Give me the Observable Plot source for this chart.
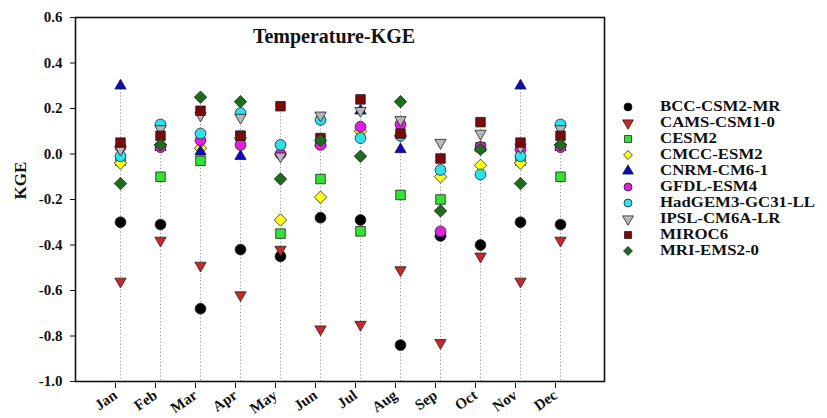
<!DOCTYPE html>
<html><head><meta charset="utf-8">
<script src="https://cdn.jsdelivr.net/npm/d3@7"></script>
<script src="https://cdn.jsdelivr.net/npm/@observablehq/plot@0.6"></script>
<style>
body{margin:0;background:#fff;font-family:"Liberation Serif","Times New Roman",serif;}
#wrap{position:relative;width:827px;height:418px;overflow:hidden;}
#legend{position:absolute;left:620px;top:99px;font-weight:bold;font-size:14px;line-height:14px;color:#111;}
.row{display:flex;align-items:center;height:16.05px;white-space:nowrap;}
.row svg{margin-right:24px;flex:none;}
.row span{display:inline-block;transform:scaleX(1.2);transform-origin:0 50%;}
</style></head><body><div id="wrap"><div id="legend"></div></div>
<script>
const months = ["Jan","Feb","Mar","Apr","May","Jun","Jul","Aug","Sep","Oct","Nov","Dec"];
const models = ["BCC-CSM2-MR","CAMS-CSM1-0","CESM2","CMCC-ESM2","CNRM-CM6-1","GFDL-ESM4","HadGEM3-GC31-LL","IPSL-CM6A-LR","MIROC6","MRI-EMS2-0"];
const yTicks = [0.6,0.4,0.2,0.0,-0.2,-0.4,-0.6,-0.8,-1.0];

const BCC    = [-0.30,-0.31,-0.68,-0.42,-0.45,-0.28,-0.29,-0.84,-0.36,-0.40,-0.30,-0.31];
const CAMS   = [-0.56,-0.38,-0.49,-0.62,-0.42,-0.77,-0.75,-0.51,-0.83,-0.45,-0.56,-0.38];
const CESM2  = [-0.03,-0.10,-0.03, 0.08,-0.35,-0.11,-0.34,-0.18,-0.20, 0.03,-0.03,-0.10];
const CMCC   = [-0.04, 0.04, 0.025,0.07,-0.29,-0.19, 0.10, 0.08,-0.10,-0.05,-0.04, 0.04];
const CNRM   = [ 0.30, 0.03, 0.01,-0.01, 0.01, 0.05, 0.19, 0.02,-0.35, 0.03, 0.30, 0.03];
const GFDL   = [ 0.03, 0.03, 0.06, 0.04, 0.00, 0.04, 0.12, 0.13,-0.34, 0.03, 0.02, 0.03];
const HadGEM = [-0.01, 0.13, 0.09, 0.18, 0.04, 0.15, 0.07, 0.08,-0.07,-0.09,-0.01, 0.13];
const IPSL   = [ 0.02, 0.11, 0.17, 0.16,-0.01, 0.17, 0.19, 0.15, 0.05, 0.09, 0.03, 0.11];
const MIROC6 = [ 0.05, 0.08, 0.19, 0.08, 0.21, 0.07, 0.24, 0.09,-0.02, 0.14, 0.05, 0.08];
const MRI    = [-0.13, 0.04, 0.25, 0.23,-0.11, 0.06,-0.01, 0.23,-0.25, 0.02,-0.13, 0.04];

const series = [BCC, CAMS, CESM2, CMCC, CNRM, GFDL, HadGEM, IPSL, MIROC6, MRI];
const fills = ["#000000","#c8282a","#33e033","#ffff1a","#0a0ac0","#e020e0","#30e0e8","#b8b8b8","#7a0a0a","#1c6e1c"];

const triangleDown = {
  draw(ctx, size) {
    const y = -Math.sqrt(size / (Math.sqrt(3) * 3));
    ctx.moveTo(0, -2 * y);
    ctx.lineTo(-Math.sqrt(3) * y, y);
    ctx.lineTo(Math.sqrt(3) * y, y);
    ctx.closePath();
  }
};
const shapes = [d3.symbolCircle, triangleDown, d3.symbolSquare, d3.symbolDiamond2, d3.symbolTriangle,
                d3.symbolCircle, d3.symbolCircle, triangleDown, d3.symbolSquare, d3.symbolDiamond2];
const radii = [5.4, 4.2, 5.4, 5.6, 4.2, 5.4, 5.4, 4.2, 5.4, 5.6];

const data = [];
models.forEach((m, i) => months.forEach((mo, j) => data.push({model: m, month: mo, value: series[i][j]})));
const tops = months.map((mo, j) => ({month: mo, top: d3.max(series, s => s[j])}));

const font = '"Liberation Serif","Times New Roman",serif';
const plot = Plot.plot({
  width: 827, height: 418,
  marginLeft: 75, marginRight: 223, marginTop: 17, marginBottom: 37,
  style: {fontFamily: font, fontSize: "15px", fontWeight: "bold", color: "#111", background: "#fff"},
  x: {type: "point", domain: months, padding: 1},
  y: {domain: [-1.0, 0.6]},
  marks: [
    Plot.ruleX(tops, {x: "month", y1: "top", y2: -1.0, stroke: "#9a9a9a", strokeWidth: 1, strokeDasharray: "1.2,2.2"}),
    ...models.map((m, i) => Plot.dot(data.filter(d => d.model === m), {
      x: "month", y: "value", fill: fills[i], symbol: shapes[i], r: radii[i], stroke: "#222", strokeWidth: 0.8
    })),
    Plot.frame({stroke: "#111", strokeWidth: 1.6}),
    Plot.axisY({ticks: yTicks, tickFormat: d => d.toFixed(1), tickSize: 5, tickPadding: 8, label: null, fontSize: 15}),
    Plot.axisX({tickRotate: -35, tickSize: 5, tickPadding: 5, dx: -5, dy: 2, label: null, fontSize: 15}),
    Plot.text(["Temperature-KGE"], {frameAnchor: "top", dy: 11, dx: -6, fontSize: 20, fontWeight: "bold"}),
    Plot.text(["KGE"], {frameAnchor: "left", dx: -55, rotate: -90, fontSize: 17, fontWeight: "bold"})
  ]
});
document.getElementById("wrap").prepend(plot);

const legend = d3.select("#legend");
models.forEach((m, i) => {
  const row = legend.append("div").attr("class", "row");
  const s = row.append("svg").attr("width", 16).attr("height", 16);
  s.append("path")
    .attr("transform", "translate(8,8)")
    .attr("d", d3.symbol(shapes[i], Math.PI * 16)())
    .attr("fill", fills[i]).attr("stroke", "#222").attr("stroke-width", 0.8);
  row.append("span").text(m);
});
</script>
</body></html>
